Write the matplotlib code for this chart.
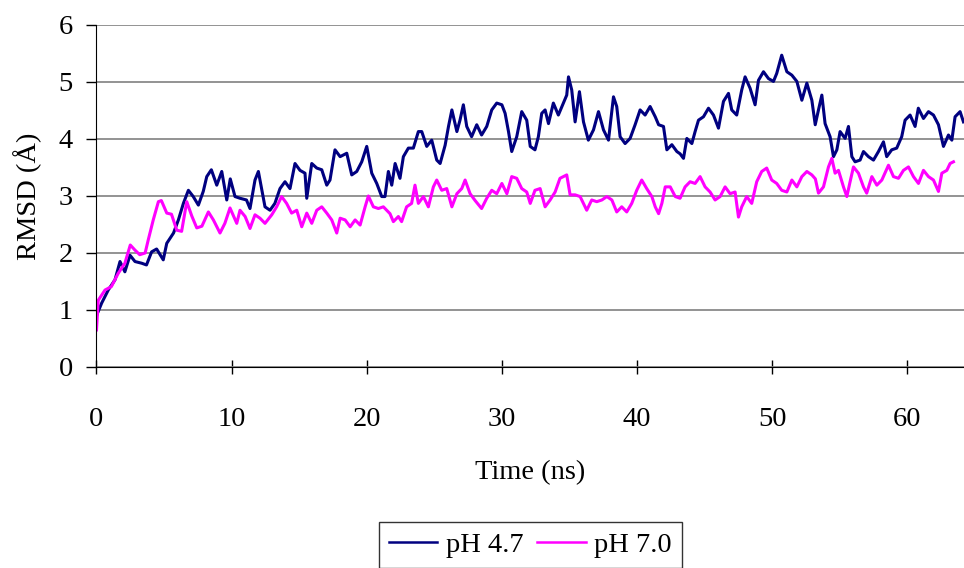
import matplotlib
matplotlib.use("Agg")
import matplotlib.pyplot as plt

# RMSD traces (time in ns, RMSD in Angstrom)
t_47 = [0, 0.38, 0.87, 1.37, 1.74, 2.1, 2.48, 2.85, 3.35, 3.7, 4.08, 4.45, 4.94, 5.2,
        5.7, 6.06, 6.43, 6.8, 7.16, 7.54, 7.9, 8.16, 8.5, 8.9, 9.27, 9.64, 9.9, 10.25,
        10.62, 11.1, 11.36, 11.73, 11.98, 12.23, 12.47, 12.84, 13.2, 13.58, 13.95, 14.32,
        14.69, 15.06, 15.43, 15.56, 15.93, 16.3, 16.67, 17.04, 17.28, 17.65, 18.03, 18.52,
        18.89, 19.26, 19.63, 20.0, 20.37, 20.74, 21.11, 21.35, 21.6, 21.85, 22.1, 22.46,
        22.71, 23.08, 23.45, 23.82, 24.07, 24.44, 24.81, 25.18, 25.43, 25.8, 26.05, 26.3,
        26.67, 26.9, 27.15, 27.4, 27.76, 28.14, 28.5, 28.88, 29.25, 29.62, 30.0, 30.24,
        30.49, 30.73, 31.1, 31.47, 31.84, 32.1, 32.45, 32.7, 32.95, 33.2, 33.45, 33.81,
        34.18, 34.55, 34.8, 34.93, 35.17, 35.42, 35.74, 36.04, 36.4, 36.78, 37.15, 37.52,
        37.89, 38.26, 38.5, 38.75, 39.12, 39.49, 39.86, 40.23, 40.6, 40.97, 41.35, 41.6,
        41.96, 42.21, 42.58, 42.95, 43.19, 43.44, 43.69, 44.06, 44.3, 44.55, 44.92, 45.29,
        45.66, 46.03, 46.4, 46.77, 47.01, 47.38, 47.75, 48.0, 48.37, 48.74, 48.99, 49.36,
        49.73, 50.1, 50.34, 50.71, 51.09, 51.46, 51.83, 52.2, 52.57, 52.94, 53.19, 53.43,
        53.68, 53.92, 54.29, 54.54, 54.79, 55.03, 55.4, 55.65, 55.9, 56.14, 56.51, 56.76,
        57.13, 57.5, 57.87, 58.24, 58.48, 58.85, 59.22, 59.59, 59.84, 60.21, 60.58, 60.82,
        61.2, 61.57, 61.94, 62.31, 62.68, 63.05, 63.3, 63.54, 63.91, 64.16]
rmsd_47 = [0.9, 1.12, 1.35, 1.53, 1.85, 1.67, 1.96, 1.85, 1.82, 1.79, 2.02, 2.07, 1.88, 2.17,
           2.35, 2.58, 2.87, 3.1, 2.99, 2.84, 3.08, 3.34, 3.46, 3.19, 3.43, 2.93, 3.3, 2.99,
           2.96, 2.93, 2.78, 3.28, 3.43, 3.11, 2.81, 2.75, 2.87, 3.13, 3.25, 3.13,
           3.57, 3.45, 3.4, 2.96, 3.57, 3.49, 3.46, 3.19, 3.28, 3.81, 3.69, 3.75,
           3.37, 3.43, 3.6, 3.87, 3.4, 3.22, 2.99, 2.99, 3.43, 3.19, 3.57, 3.31,
           3.69, 3.84, 3.84, 4.13, 4.13, 3.87, 3.98, 3.63, 3.57, 3.89, 4.22, 4.51,
           4.13, 4.33, 4.6, 4.22, 4.04, 4.25, 4.07, 4.22, 4.51, 4.63, 4.6, 4.45,
           4.13, 3.78, 4.04, 4.48, 4.33, 3.87, 3.81, 4.04, 4.45, 4.51, 4.27, 4.63,
           4.42, 4.63, 4.77, 5.09, 4.86, 4.3, 4.83, 4.3, 3.98, 4.16, 4.48, 4.16,
           3.98, 4.74, 4.57, 4.04, 3.92, 4.01, 4.25, 4.51, 4.42, 4.57, 4.39, 4.25,
           4.22, 3.81, 3.9, 3.78, 3.74, 3.66, 4.01, 3.92, 4.13, 4.33, 4.39, 4.54,
           4.42, 4.19, 4.66, 4.8, 4.51, 4.42, 4.86, 5.09, 4.89, 4.6, 5.03, 5.18,
           5.06, 5.01, 5.15, 5.47, 5.18, 5.12, 5.01, 4.68, 4.98, 4.68, 4.25, 4.51,
           4.77, 4.27, 4.04, 3.69, 3.81, 4.13, 4.01, 4.22, 3.69, 3.6, 3.63, 3.78,
           3.69, 3.63, 3.78, 3.95, 3.69, 3.81, 3.84, 4.04, 4.33, 4.42, 4.22, 4.54,
           4.36, 4.48, 4.42, 4.25, 3.87, 4.07, 3.98, 4.39, 4.48, 4.3]

t_70 = [0, 0.13, 0.63, 1.1, 1.6, 2.1, 2.5, 2.85, 3.2, 3.6, 3.83, 4.2, 4.58, 4.8, 5.2,
        5.55, 5.94, 6.3, 6.68, 7.05, 7.42, 7.8, 8.28, 8.65, 9.14, 9.5, 9.88, 10.38,
        10.62, 11.0, 11.36, 11.73, 12.1, 12.47, 12.97, 13.33, 13.7, 14.07, 14.44, 14.82,
        15.19, 15.56, 15.93, 16.3, 16.67, 17.04, 17.41, 17.78, 18.03, 18.4, 18.77, 19.14,
        19.51, 19.88, 20.12, 20.49, 20.86, 21.23, 21.72, 21.97, 22.34, 22.58, 22.95, 23.32,
        23.57, 23.82, 24.19, 24.56, 24.93, 25.18, 25.55, 25.92, 26.3, 26.67, 27.03, 27.28,
        27.65, 28.02, 28.5, 28.88, 29.25, 29.62, 30.0, 30.37, 30.73, 31.1, 31.47, 31.84,
        32.1, 32.45, 32.83, 33.2, 33.57, 33.94, 34.3, 34.8, 35.05, 35.42, 35.79, 36.28,
        36.65, 37.02, 37.4, 37.77, 38.14, 38.5, 38.87, 39.24, 39.61, 39.98, 40.35, 40.72,
        41.1, 41.35, 41.6, 41.84, 42.09, 42.46, 42.83, 43.19, 43.56, 43.93, 44.3, 44.67,
        45.04, 45.41, 45.78, 46.15, 46.52, 46.89, 47.26, 47.51, 47.75, 48.12, 48.49, 48.86,
        49.23, 49.6, 49.97, 50.34, 50.71, 51.09, 51.46, 51.83, 52.2, 52.57, 52.94, 53.2,
        53.43, 53.8, 54.17, 54.42, 54.66, 54.91, 55.28, 55.53, 55.77, 56.02, 56.39, 56.76,
        57.0, 57.38, 57.75, 58.12, 58.61, 58.98, 59.35, 59.72, 60.09, 60.46, 60.83, 61.2,
        61.57, 61.94, 62.31, 62.56, 62.93, 63.17, 63.42]
rmsd_70 = [0.65, 1.17, 1.35, 1.41, 1.64, 1.82, 2.14, 2.05, 1.97, 2.0, 2.23, 2.58, 2.9, 2.92, 2.7,
           2.68, 2.4, 2.38, 2.9, 2.65, 2.44, 2.47, 2.72, 2.58, 2.35, 2.52, 2.79, 2.52,
           2.75, 2.64, 2.43, 2.67, 2.61, 2.52, 2.67, 2.81, 2.99, 2.87, 2.7, 2.75,
           2.46, 2.7, 2.52, 2.75, 2.81, 2.7, 2.58, 2.35, 2.61, 2.58, 2.46, 2.58,
           2.49, 2.81, 3.0, 2.81, 2.78, 2.81, 2.69, 2.55, 2.64, 2.55, 2.81, 2.87,
           3.19, 2.87, 2.99, 2.81, 3.16, 3.28, 3.1, 3.13, 2.81, 3.04, 3.13, 3.28,
           3.04, 2.92, 2.78, 2.96, 3.1, 3.04, 3.22, 3.04, 3.34, 3.31, 3.13, 3.07,
           2.87, 3.1, 3.13, 2.81, 2.93, 3.07, 3.31, 3.37, 3.02, 3.02, 2.99, 2.75,
           2.93, 2.9, 2.93, 2.99, 2.93, 2.72, 2.81, 2.72, 2.87, 3.1, 3.28, 3.13,
           2.99, 2.81, 2.69, 2.87, 3.16, 3.16, 2.99, 2.96, 3.16, 3.25, 3.22, 3.34,
           3.16, 3.07, 2.93, 2.99, 3.16, 3.04, 3.07, 2.63, 2.81, 2.99, 2.87, 3.25,
           3.43, 3.49, 3.28, 3.22, 3.1, 3.07, 3.28, 3.16, 3.34, 3.43, 3.37, 3.3,
           3.05, 3.16, 3.51, 3.66, 3.4, 3.45, 3.16, 2.99, 3.25, 3.51, 3.4, 3.16,
           3.05, 3.34, 3.19, 3.28, 3.54, 3.34, 3.31, 3.45, 3.51, 3.34, 3.22, 3.45,
           3.34, 3.28, 3.08, 3.4, 3.45, 3.57, 3.6]

series_labels = ["pH 4.7", "pH 7.0"]
x_ticks = [0, 10, 20, 30, 40, 50, 60]
y_ticks = [0, 1, 2, 3, 4, 5, 6]

plt.rcParams['font.family'] = ['Liberation Serif', 'DejaVu Serif']
fs = 20.5

fig = plt.figure(figsize=(9.64, 5.68), dpi=100)
ax = fig.add_axes([0.1001, 0.3539, 0.8999, 0.6021])

ax.plot(t_47, rmsd_47, color='#000080', lw=2.2, label=series_labels[0])
ax.plot(t_70, rmsd_70, color='#FF00FF', lw=2.2, label=series_labels[1])

ax.set_xlim(0, 64.2)
ax.set_ylim(0, 6)
ax.set_xticks(x_ticks)
ax.set_yticks(y_ticks)
ax.yaxis.grid(True, color='#808080', lw=1.2)
ax.set_axisbelow(True)
for s in ['top', 'right']:
    ax.spines[s].set_visible(False)
ax.spines['left'].set_color('black')
ax.spines['bottom'].set_color('black')
ax.tick_params(axis='x', direction='inout', length=10, width=1, pad=24, labelsize=fs)
ax.tick_params(axis='y', direction='out', length=7, width=1, pad=10, labelsize=fs)

ax.set_xlabel("Time (ns)", fontsize=fs, labelpad=20)
ax.set_ylabel("RMSD (Å)", fontsize=fs, labelpad=12)

leg = ax.legend(loc='upper center', bbox_to_anchor=(0.5, -0.453), ncol=2, fontsize=fs,
                frameon=True, fancybox=False, edgecolor='black', handlelength=1.7,
                handletextpad=0.3, columnspacing=0.5, borderpad=0.35, borderaxespad=0)
leg.get_frame().set_linewidth(1)
for line in leg.get_lines():
    line.set_linewidth(1.8)

fig.savefig("out.png", dpi=100)
